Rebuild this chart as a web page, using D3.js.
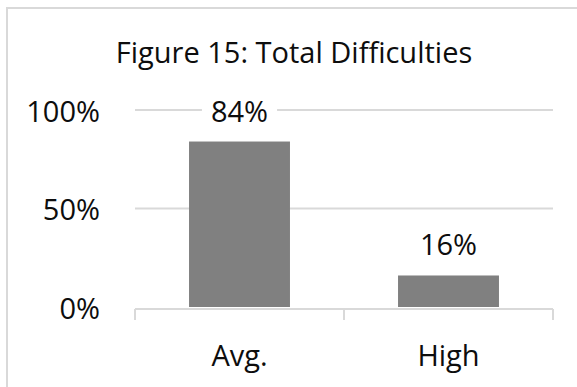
<!DOCTYPE html>
<html>
<head>
<meta charset="utf-8">
<script src="https://cdn.jsdelivr.net/npm/d3@7"></script>
<style>
  html, body { margin: 0; padding: 0; background: #fff; overflow: hidden; }
  svg { display: block; }
  text { font-family: "Open Sans", "Noto Sans", sans-serif; fill: #0d0d0d; }
</style>
</head>
<body>
<svg id="chart" width="577" height="387"></svg>
<script>
// Chart data
const categories = ["Avg.", "High"];
const values = [0.84, 0.16];
const valueLabels = ["84%", "16%"];
const tickValues = [0, 0.5, 1];
const tickLabels = ["0%", "50%", "100%"];
const title = "Figure 15: Total Difficulties";

const plot = { left: 135, right: 553, top: 110, bottom: 307 };
const fontSize = "29px";
const lineColor = "#d9d9d9";

const svg = d3.select("#chart");

// chart frame (top and left edges visible)
svg.append("rect")
  .attr("x", 7).attr("y", 8)
  .attr("width", 620).attr("height", 420)
  .attr("fill", "none")
  .attr("stroke", lineColor)
  .attr("stroke-width", 2);

const x = d3.scaleBand()
  .domain(categories)
  .range([plot.left, plot.right])
  .paddingInner(0.517)
  .paddingOuter(0.2585);

const y = d3.scaleLinear()
  .domain([0, 1])
  .range([plot.bottom, plot.top]);

// title
svg.append("text")
  .attr("x", 294).attr("y", 63)
  .attr("text-anchor", "middle")
  .style("font-size", fontSize)
  .text(title);

// horizontal gridlines (baseline drawn with the category axis)
svg.append("g")
  .selectAll("line")
  .data(tickValues.filter(d => d > 0))
  .join("line")
  .attr("x1", plot.left).attr("x2", plot.right)
  .attr("y1", d => y(d)).attr("y2", d => y(d))
  .attr("stroke", lineColor)
  .attr("stroke-width", 2);

// y tick labels
svg.append("g")
  .selectAll("text")
  .data(tickValues)
  .join("text")
  .attr("x", 100)
  .attr("y", d => y(d) + 11.5)
  .attr("text-anchor", "end")
  .style("font-size", fontSize)
  .text((d, i) => tickLabels[i]);

// bars
svg.append("g")
  .selectAll("rect")
  .data(values)
  .join("rect")
  .attr("x", (d, i) => x(categories[i]))
  .attr("width", x.bandwidth())
  .attr("y", d => y(d))
  .attr("height", d => y(0) - y(d))
  .attr("fill", "#808080");

// category axis: baseline plus tick marks at band edges
const axisY = y(0) + 2;
const axisG = svg.append("g");
axisG.append("line")
  .attr("x1", plot.left).attr("x2", plot.right)
  .attr("y1", axisY).attr("y2", axisY)
  .attr("stroke", lineColor).attr("stroke-width", 2);
const edges = d3.range(categories.length + 1)
  .map(i => plot.left + i * (plot.right - plot.left) / categories.length);
axisG.selectAll("line.tick")
  .data(edges)
  .join("line")
  .attr("class", "tick")
  .attr("x1", d => d).attr("x2", d => d)
  .attr("y1", axisY).attr("y2", axisY + 11)
  .attr("stroke", lineColor).attr("stroke-width", 2);

// category labels
svg.append("g")
  .selectAll("text")
  .data(categories)
  .join("text")
  .attr("x", d => x(d) + x.bandwidth() / 2)
  .attr("y", 366)
  .attr("text-anchor", "middle")
  .style("font-size", fontSize)
  .text(d => d);

// value labels on a white backing so gridlines break around them
const lab = svg.append("g")
  .selectAll("g")
  .data(values)
  .join("g")
  .attr("transform", (d, i) => `translate(${x(categories[i]) + x.bandwidth() / 2},${y(d) - 20})`);
const labText = lab.append("text")
  .attr("text-anchor", "middle")
  .style("font-size", fontSize)
  .text((d, i) => valueLabels[i]);
lab.insert("rect", "text")
  .each(function (d, i) {
    const bb = labText.nodes()[i].getBBox();
    d3.select(this)
      .attr("x", bb.x - 9).attr("y", bb.y)
      .attr("width", bb.width + 18).attr("height", bb.height)
      .attr("fill", "#fff");
  });
</script>
</body>
</html>
